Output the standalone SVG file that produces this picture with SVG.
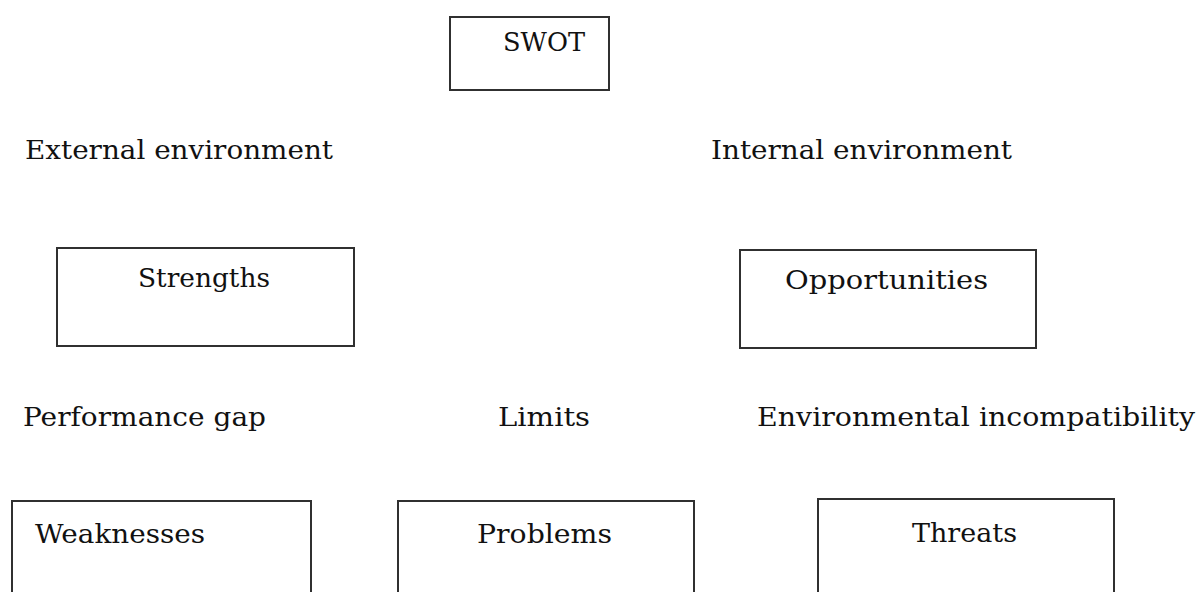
<svg xmlns="http://www.w3.org/2000/svg" width="1200" height="592" viewBox="0 0 1200 592">
<style>
  .box { fill: #ffffff; stroke: #303030; stroke-width: 2; }
  .t { font-family: "DejaVu Serif", "Liberation Serif", serif; font-size: 26px; fill: #111111; }
</style>
<rect x="0" y="0" width="1200" height="592" fill="#ffffff"/>
<g id="connectors"></g>
<g id="node-swot">
  <rect class="box" x="450" y="17" width="159" height="73"/>
  <text class="t" x="503" y="51" textLength="82" lengthAdjust="spacingAndGlyphs">SWOT</text>
</g>
<g id="label-external">
  <text class="t" x="25" y="159" textLength="308" lengthAdjust="spacingAndGlyphs">External environment</text>
</g>
<g id="label-internal">
  <text class="t" x="711" y="159" textLength="301" lengthAdjust="spacingAndGlyphs">Internal environment</text>
</g>
<g id="node-strengths">
  <rect class="box" x="57" y="248" width="297" height="98"/>
  <text class="t" x="138" y="287" textLength="132" lengthAdjust="spacingAndGlyphs">Strengths</text>
</g>
<g id="node-opportunities">
  <rect class="box" x="740" y="250" width="296" height="98"/>
  <text class="t" x="785" y="289" textLength="203" lengthAdjust="spacingAndGlyphs">Opportunities</text>
</g>
<g id="label-performance-gap">
  <text class="t" x="23" y="426" textLength="243" lengthAdjust="spacingAndGlyphs">Performance gap</text>
</g>
<g id="label-limits">
  <text class="t" x="498" y="426" textLength="92" lengthAdjust="spacingAndGlyphs">Limits</text>
</g>
<g id="label-environmental-incompatibility">
  <text class="t" x="757" y="426" textLength="438" lengthAdjust="spacingAndGlyphs">Environmental incompatibility</text>
</g>
<g id="node-weaknesses">
  <rect class="box" x="12" y="501" width="299" height="110"/>
  <text class="t" x="35" y="543" textLength="170" lengthAdjust="spacingAndGlyphs">Weaknesses</text>
</g>
<g id="node-problems">
  <rect class="box" x="398" y="501" width="296" height="110"/>
  <text class="t" x="477" y="543" textLength="135" lengthAdjust="spacingAndGlyphs">Problems</text>
</g>
<g id="node-threats">
  <rect class="box" x="818" y="499" width="296" height="110"/>
  <text class="t" x="912" y="542" textLength="105" lengthAdjust="spacingAndGlyphs">Threats</text>
</g>
</svg>
